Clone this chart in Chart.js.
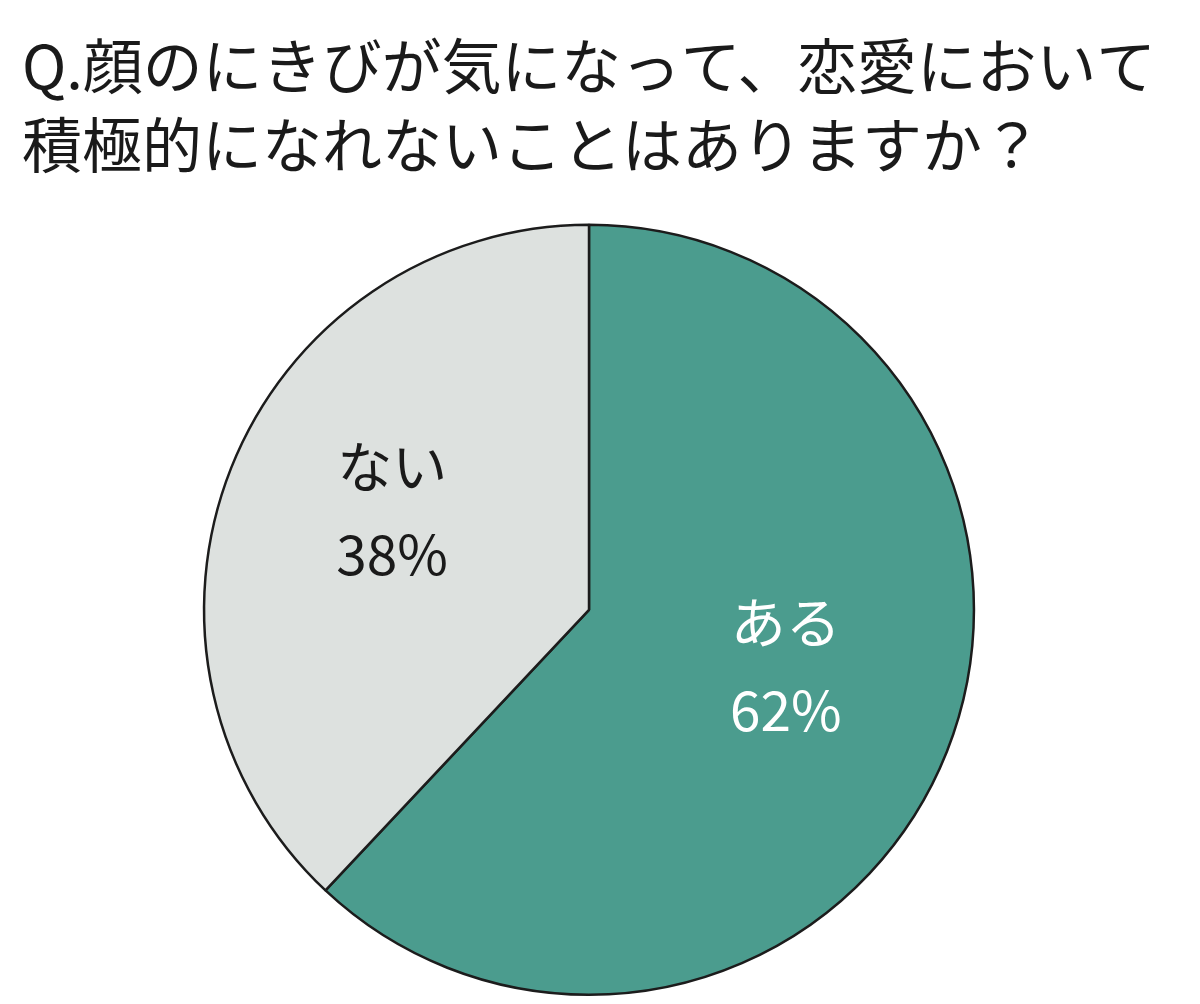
<!DOCTYPE html>
<html>
<head>
<meta charset="utf-8">
<script src="https://cdn.jsdelivr.net/npm/chart.js@4.4.0/dist/chart.umd.min.js"></script>
<style>
  html, body { margin: 0; padding: 0; background: #ffffff; }
  #wrap { width: 1200px; height: 1004px; }
</style>
</head>
<body>
<div id="wrap"><canvas id="pieChart"></canvas></div>
<script>
const titleLines = ['Q.顔のにきびが気になって、恋愛において', '積極的になれないことはありますか？'];
const categories = ['ある', 'ない'];
const values = [62, 38];
const sliceColors = ['#4b9c8e', '#dde1df'];
const labelColors = ['#ffffff', '#1a1a1a'];

// draws "category / percent" inside each slice
const sliceLabels = {
    id: 'sliceLabels',
    afterDatasetsDraw(chart) {
        const ctx = chart.ctx;
        const arcs = chart.getDatasetMeta(0).data;
        ctx.save();
        ctx.font = '55px "Noto Sans CJK JP", sans-serif';
        ctx.textAlign = 'center';
        ctx.textBaseline = 'middle';
        arcs.forEach(function(arc, i) {
            const p = arc.getProps(['x', 'y', 'startAngle', 'endAngle', 'outerRadius'], true);
            const mid = (p.startAngle + p.endAngle) / 2;
            const dist = p.outerRadius * 0.55;
            const cx = p.x + Math.cos(mid) * dist;
            const cy = p.y + Math.sin(mid) * dist;
            ctx.fillStyle = labelColors[i];
            ctx.fillText(categories[i], cx, cy - 66);
            ctx.fillText(values[i] + '%', cx, cy + 22);
        });
        ctx.restore();
    }
};

const pieCtx = document.getElementById('pieChart').getContext('2d');
new Chart(pieCtx, {
    type: 'pie',
    data: {
        labels: categories,
        datasets: [{
            data: values,
            backgroundColor: sliceColors,
            borderColor: '#1c1c1c',
            borderWidth: 2.5
        }]
    },
    options: {
        responsive: true,
        maintainAspectRatio: false,
        animation: false,
        layout: {
            padding: { left: 22, right: 44, top: 0, bottom: 8 }
        },
        plugins: {
            title: {
                display: true,
                text: titleLines,
                align: 'start',
                color: '#1a1a1a',
                font: { size: 60, family: '"Noto Sans CJK JP", sans-serif', weight: 'normal', lineHeight: 1.33 },
                padding: { top: 26, bottom: 38 }
            },
            legend: { display: false },
            tooltip: { enabled: false }
        }
    },
    plugins: [sliceLabels]
});
</script>
</body>
</html>
